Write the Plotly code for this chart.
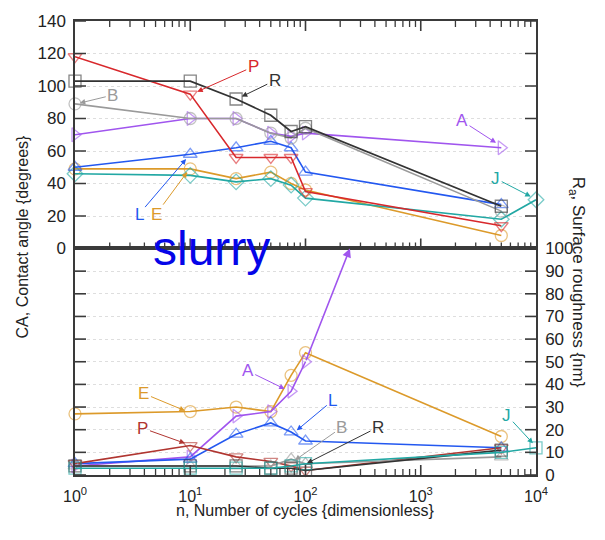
import numpy as np
import plotly.graph_objects as go

# ---- data -------------------------------------------------------------
cycles = [1, 10, 25, 50, 75, 100, 5000]
cycles_j = [1, 10, 25, 50, 75, 100, 5000, 10000]

# contact angle (degrees)
ca_P = [118, 95, 56, 56, 56, 35, 14]
ca_R = [103, 103, 92, 82, 72, 75, 26]
ca_B = [89, 80, 80, 71, 68, 74, 23]
ca_A = [70, 80, 80, 71, 69, 71, 62]
ca_L = [50, 58, 62, 66, 62, 47, 27]
ca_E = [49, 49, 43, 47, 40, 36, 8]
ca_J = [46, 45, 41, 43, 39, 31, 18, 30]

# surface roughness Ra (nm)
ra_cycles_A = [1, 10, 25, 50, 75, 100]
ra_E = [27, 28, 30, 28, 44, 54, 17]
ra_A = [4, 8, 26, 28, 37, 50]
ra_L = [5, 7, 18, 23, 19, 15, 12]
ra_P = [5, 13, 8, 6, 4, 2, 12]
ra_R = [4, 4, 4, 3, 3, 2, 11]
ra_B = [4, 4, 4, 4, 7, 5, 8]
ra_J = [3, 3, 3, 3, 4, 5, 10, 12]

x_tick_vals = [1, 10, 100, 1000, 10000]
x_tick_text = ["10<sup>0</sup>", "10<sup>1</sup>", "10<sup>2</sup>", "10<sup>3</sup>", "10<sup>4</sup>"]
ca_ticks = list(range(0, 141, 20))
ra_ticks = list(range(0, 101, 10))

colors = {
    "P": "#d8282c", "P2": "#b03530", "R": "#333333", "B": "#9a9a9a",
    "A": "#a055ee", "L": "#2358f0", "E": "#dc9a2a", "J": "#22a8a4",
}
FONT = "Liberation Sans, Arial"

# ---- figure -----------------------------------------------------------
fig = go.Figure()


def fade(hex_color, alpha):
    h = hex_color.lstrip("#")
    r, g, b = (int(h[i:i + 2], 16) for i in (0, 2, 4))
    return f"rgba({r},{g},{b},{alpha})"


def series(x, y, color, symbol, xa, ya, width=1.6):
    fig.add_trace(go.Scatter(
        x=x, y=y, mode="lines+markers", xaxis=xa, yaxis=ya,
        line=dict(color=color, width=width),
        marker=dict(symbol=symbol, size=12, color=fade(color, 0.6),
                    line=dict(width=1.3)),
        cliponaxis=False, showlegend=False, hoverinfo="skip"))


# top panel: contact angle
series(cycles, ca_E, colors["E"], "circle-open", "x", "y")
series(cycles_j, ca_J, colors["J"], "diamond-open", "x", "y")
series(cycles, ca_L, colors["L"], "triangle-up-open", "x", "y")
series(cycles, ca_A, colors["A"], "triangle-right-open", "x", "y")
series(cycles, ca_B, colors["B"], "circle-open", "x", "y")
series(cycles, ca_P, colors["P"], "triangle-down-open", "x", "y")
series(cycles, ca_R, colors["R"], "square-open", "x", "y", width=1.8)

# bottom panel: roughness
series(cycles, ra_E, colors["E"], "circle-open", "x2", "y2")
series(ra_cycles_A, ra_A, colors["A"], "triangle-right-open", "x2", "y2")
series(cycles, ra_L, colors["L"], "triangle-up-open", "x2", "y2")
series(cycles, ra_P, colors["P2"], "triangle-down-open", "x2", "y2")
series(cycles, ra_B, colors["B"], "triangle-up-open", "x2", "y2")
series(cycles, ra_R, colors["R"], "square-open", "x2", "y2")
series(cycles_j, ra_J, colors["J"], "square-open", "x2", "y2")

annotations = []


def label(text, xv, yv, ax, ay, color, xref, yref):
    annotations.append(dict(
        text=text, x=np.log10(xv), y=yv, xref=xref, yref=yref,
        ax=ax, ay=ay, axref="pixel", ayref="pixel",
        showarrow=True, arrowhead=2, arrowsize=1.1, arrowwidth=1,
        arrowcolor=color, font=dict(size=17, color=color, family=FONT)))


# top panel labels
label("P", 11.5, 96.5, 56, -25, colors["P"], "x", "y")
label("R", 28, 93.5, 33, -16, colors["R"], "x", "y")
label("B", 1.1, 89.5, 33, -8, colors["B"], "x", "y")
label("A", 4500, 65, -34, -22, colors["A"], "x", "y")
label("J", 9000, 32, -35, -18, colors["J"], "x", "y")
label("L", 9.2, 55, -47, 55, colors["L"], "x", "y")
label("E", 9.4, 47, -31, 42, colors["E"], "x", "y")

# bottom panel labels
label("E", 9.0, 28.4, -41, -17, colors["E"], "x2", "y2")
label("P", 9.0, 14, -42, -15, colors["P2"], "x2", "y2")
label("A", 66, 38, -37, -18, colors["A"], "x2", "y2")
label("L", 84, 19.7, 36, -30, colors["L"], "x2", "y2")
label("B", 81, 6.5, 47, -33, colors["B"], "x2", "y2")
label("R", 103, 5.2, 71, -36, colors["R"], "x2", "y2")
label("J", 9400, 14, -26, -28, colors["J"], "x2", "y2")

# series A leaves the roughness scale after 100 cycles
annotations.append(dict(
    x=np.log10(243), y=100, xref="x2", yref="y2",
    ax=np.log10(ra_cycles_A[-1]), ay=ra_A[-1], axref="x2", ayref="y2",
    showarrow=True, arrowhead=2, arrowsize=1.1, arrowwidth=1.6,
    arrowcolor=colors["A"], text=""))

# axis titles and panel tag
annotations.append(dict(
    text="CA, Contact angle {degrees}", x=-0.137, y=0.752,
    xref="paper", yref="paper", textangle=-90, showarrow=False,
    font=dict(size=16, color="#222", family=FONT)))
annotations.append(dict(
    text="R<sub>a</sub>, Surface roughness {nm}", x=1.117, y=0.187,
    xref="paper", yref="paper", textangle=90, showarrow=False,
    font=dict(size=17, color="#222", family=FONT)))
annotations.append(dict(
    text="n, Number of cycles {dimensionless}", x=0.499, y=-0.102,
    xref="paper", yref="paper", showarrow=False,
    font=dict(size=16, color="#222", family=FONT)))
annotations.append(dict(
    text="slurry", x=0.297, y=0.5, xref="paper", yref="paper",
    xanchor="center", yanchor="middle", showarrow=False,
    font=dict(size=48, color="#0505e8", family=FONT)))

split = 229 / 459
minor_vals = [m * 10 ** d for d in range(4) for m in range(2, 10)]
frame = "#3a3a3a"

# inward tick marks, anchored on the axis values, with pixel lengths
shapes = []


def xtick(val, yref, y_anchor, length, width):
    # shapes on a log axis take the plain value
    shapes.append(dict(
        type="line", xref=yref.replace("y", "x"), yref=yref,
        x0=val, x1=val,
        ysizemode="pixel", yanchor=y_anchor, y0=0, y1=length,
        line=dict(color=frame, width=width), layer="above"))


def ytick(val, yref, side, length, width):
    xref = "x domain" if yref == "y" else "x2 domain"
    shapes.append(dict(
        type="line", xref=xref, yref=yref, y0=val, y1=val,
        xsizemode="pixel", xanchor=side, x0=0,
        x1=length if side == 0 else -length,
        line=dict(color=frame, width=width), layer="above"))


for v in x_tick_vals[1:-1]:
    xtick(v, "y", 0, 10, 1.6)
    xtick(v, "y", 140, -10, 1.6)
    xtick(v, "y2", 0, 10, 1.6)
for v in minor_vals:
    xtick(v, "y", 0, 6, 1.3)
    xtick(v, "y", 140, -6, 1.3)
    xtick(v, "y2", 0, 6, 1.3)
for v in ca_ticks:
    ytick(v, "y", 0, 11, 1.6)
    ytick(v, "y", 1, 11, 1.6)
for v in ra_ticks:
    ytick(v, "y2", 0, 11, 1.6)
    ytick(v, "y2", 1, 11, 1.6)

axis_common = dict(
    type="log", range=[0, 4], showline=True, linecolor=frame, linewidth=1.5,
    ticks="", tickmode="array", tickvals=x_tick_vals, ticktext=x_tick_text,
    showgrid=False, zeroline=False,
)

fig.update_layout(
    width=605, height=540, showlegend=False,
    margin=dict(l=75, r=69, t=16, b=65),
    paper_bgcolor="white", plot_bgcolor="white",
    xaxis=dict(axis_common, anchor="y", mirror=True, showticklabels=False),
    xaxis2=dict(axis_common, anchor="y2", mirror=True, ticklabelstandoff=6,
                tickfont=dict(size=16, color="#222", family=FONT)),
    yaxis=dict(domain=[split, 1], range=[0, 140], tickmode="array",
               tickvals=ca_ticks, anchor="x", ticks="",
               showline=True, linecolor=frame, linewidth=1.5, mirror=True,
               showgrid=True, gridcolor="#dedede", griddash="dot",
               zeroline=False, ticklabelstandoff=4,
               tickfont=dict(size=17, color="#222", family=FONT)),
    yaxis2=dict(domain=[0, split], range=[0, 100], tickmode="array",
                tickvals=ra_ticks, anchor="x2", side="right", ticks="",
                showline=True, linecolor=frame, linewidth=1.5, mirror=True,
                showgrid=True, gridcolor="#dedede", griddash="dot",
                zeroline=False, ticklabelstandoff=4,
                tickfont=dict(size=17, color="#222", family=FONT)),
    annotations=annotations,
    shapes=shapes,
)

fig.write_html("out.html")
